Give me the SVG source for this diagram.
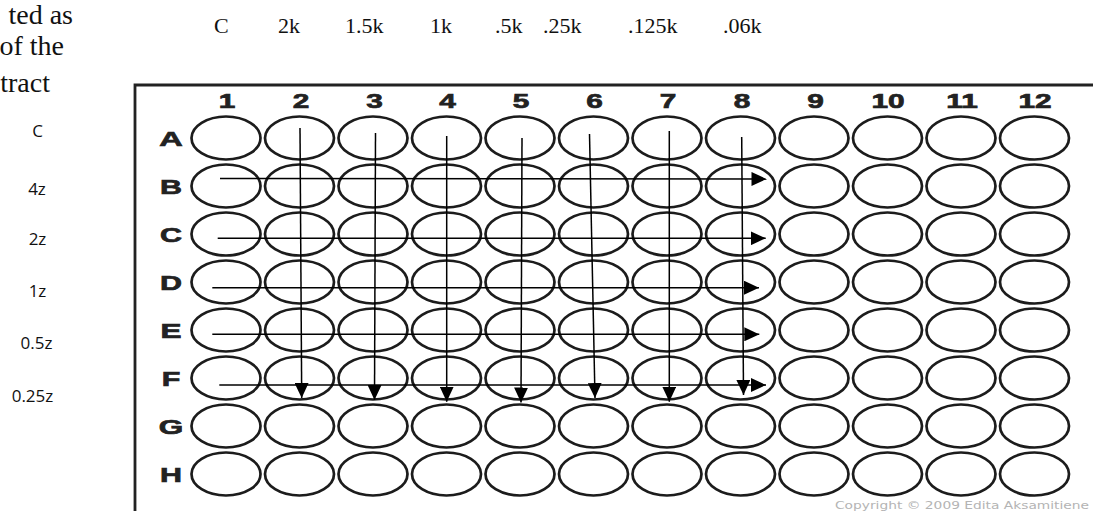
<svg xmlns="http://www.w3.org/2000/svg" width="1093" height="511" viewBox="0 0 1093 511">
<style>
.well{fill:#fff;stroke:#1c1c1c;stroke-width:2.7}
.hdr{font-family:"Liberation Sans",Arial,sans-serif;font-weight:bold;font-size:21px;fill:#222;stroke:#222;stroke-width:0.7;text-anchor:middle}
.top{font-family:"Liberation Serif","Times New Roman",serif;font-size:22px;fill:#111}
.para{font-family:"Liberation Serif","Times New Roman",serif;font-size:28px;fill:#111;text-anchor:end}
.side{font-family:"Open Sans","Liberation Sans",sans-serif;font-size:17px;fill:#111;text-anchor:middle}
.copy{font-family:"DejaVu Sans",Verdana,sans-serif;font-size:11px;fill:#b4b4b4}
.arr{stroke:#000;stroke-width:1.5;fill:none;marker-end:url(#ah)}
</style>
<defs>
<marker id="ah" markerUnits="userSpaceOnUse" markerWidth="15" markerHeight="14" refX="15" refY="7" orient="auto"><path d="M0,0 L15,7 L0,14 Z" fill="#000"/></marker>
</defs>
<rect width="1093" height="511" fill="#fff"/>
<g id="paragraph-text">
<text class="para" x="73" y="24">ted as</text>
<text class="para" x="64" y="55">of the</text>
<text class="para" x="50" y="92">tract</text>
</g>
<g id="top-labels">
<text class="top" x="214" y="33">C</text>
<text class="top" x="278" y="33">2k</text>
<text class="top" x="345" y="33">1.5k</text>
<text class="top" x="430" y="33">1k</text>
<text class="top" x="495" y="33">.5k</text>
<text class="top" x="543" y="33">.25k</text>
<text class="top" x="628" y="33">.125k</text>
<text class="top" x="723" y="33">.06k</text>
</g>
<g id="side-labels">
<text class="side" x="37.5" y="137">C</text>
<text class="side" x="37" y="195">4z</text>
<text class="side" x="37.5" y="245">2z</text>
<text class="side" x="37.5" y="297">1z</text>
<text class="side" x="36.5" y="349">0.5z</text>
<text class="side" x="32.5" y="402">0.25z</text>
</g>
<g id="plate">
<path d="M135,511 V85 H1093" fill="none" stroke="#222" stroke-width="2.8"/>
<g id="col-labels">
<text class="hdr" transform="translate(227,108) scale(1.42,1)">1</text>
<text class="hdr" transform="translate(301,108) scale(1.42,1)">2</text>
<text class="hdr" transform="translate(374.5,108) scale(1.42,1)">3</text>
<text class="hdr" transform="translate(447.5,108) scale(1.42,1)">4</text>
<text class="hdr" transform="translate(521,108) scale(1.42,1)">5</text>
<text class="hdr" transform="translate(594.5,108) scale(1.42,1)">6</text>
<text class="hdr" transform="translate(668,108) scale(1.42,1)">7</text>
<text class="hdr" transform="translate(742,108) scale(1.42,1)">8</text>
<text class="hdr" transform="translate(815.5,108) scale(1.42,1)">9</text>
<text class="hdr" transform="translate(888,108) scale(1.42,1)">10</text>
<text class="hdr" transform="translate(962,108) scale(1.42,1)">11</text>
<text class="hdr" transform="translate(1035,108) scale(1.42,1)">12</text>
</g>
<g id="row-labels">
<text class="hdr" transform="translate(171,145.5) scale(1.55,1)">A</text>
<text class="hdr" transform="translate(171,193.5) scale(1.45,1)">B</text>
<text class="hdr" transform="translate(171,241.5) scale(1.45,1)">C</text>
<text class="hdr" transform="translate(171,289.5) scale(1.45,1)">D</text>
<text class="hdr" transform="translate(171,337.5) scale(1.5,1)">E</text>
<text class="hdr" transform="translate(171,385.5) scale(1.45,1)">F</text>
<text class="hdr" transform="translate(171,433.5) scale(1.5,1)">G</text>
<text class="hdr" transform="translate(171,481.5) scale(1.45,1)">H</text>
</g>
<g id="row-A">
<g id="A1"><ellipse class="well" cx="226" cy="138" rx="34.5" ry="21.5"/></g>
<g id="A2"><ellipse class="well" cx="299.5" cy="138" rx="34.5" ry="21.5"/></g>
<g id="A3"><ellipse class="well" cx="373" cy="138" rx="34.5" ry="21.5"/></g>
<g id="A4"><ellipse class="well" cx="446.5" cy="138" rx="34.5" ry="21.5"/></g>
<g id="A5"><ellipse class="well" cx="520" cy="138" rx="34.5" ry="21.5"/></g>
<g id="A6"><ellipse class="well" cx="593.5" cy="138" rx="34.5" ry="21.5"/></g>
<g id="A7"><ellipse class="well" cx="667" cy="138" rx="34.5" ry="21.5"/></g>
<g id="A8"><ellipse class="well" cx="740.5" cy="138" rx="34.5" ry="21.5"/></g>
<g id="A9"><ellipse class="well" cx="814" cy="138" rx="34.5" ry="21.5"/></g>
<g id="A10"><ellipse class="well" cx="887.5" cy="138" rx="34.5" ry="21.5"/></g>
<g id="A11"><ellipse class="well" cx="961" cy="138" rx="34.5" ry="21.5"/></g>
<g id="A12"><ellipse class="well" cx="1034.5" cy="138" rx="34.5" ry="21.5"/></g>
</g>
<g id="row-B">
<g id="B1"><ellipse class="well" cx="226" cy="186" rx="34.5" ry="21.5"/></g>
<g id="B2"><ellipse class="well" cx="299.5" cy="186" rx="34.5" ry="21.5"/></g>
<g id="B3"><ellipse class="well" cx="373" cy="186" rx="34.5" ry="21.5"/></g>
<g id="B4"><ellipse class="well" cx="446.5" cy="186" rx="34.5" ry="21.5"/></g>
<g id="B5"><ellipse class="well" cx="520" cy="186" rx="34.5" ry="21.5"/></g>
<g id="B6"><ellipse class="well" cx="593.5" cy="186" rx="34.5" ry="21.5"/></g>
<g id="B7"><ellipse class="well" cx="667" cy="186" rx="34.5" ry="21.5"/></g>
<g id="B8"><ellipse class="well" cx="740.5" cy="186" rx="34.5" ry="21.5"/></g>
<g id="B9"><ellipse class="well" cx="814" cy="186" rx="34.5" ry="21.5"/></g>
<g id="B10"><ellipse class="well" cx="887.5" cy="186" rx="34.5" ry="21.5"/></g>
<g id="B11"><ellipse class="well" cx="961" cy="186" rx="34.5" ry="21.5"/></g>
<g id="B12"><ellipse class="well" cx="1034.5" cy="186" rx="34.5" ry="21.5"/></g>
</g>
<g id="row-C">
<g id="C1"><ellipse class="well" cx="226" cy="234" rx="34.5" ry="21.5"/></g>
<g id="C2"><ellipse class="well" cx="299.5" cy="234" rx="34.5" ry="21.5"/></g>
<g id="C3"><ellipse class="well" cx="373" cy="234" rx="34.5" ry="21.5"/></g>
<g id="C4"><ellipse class="well" cx="446.5" cy="234" rx="34.5" ry="21.5"/></g>
<g id="C5"><ellipse class="well" cx="520" cy="234" rx="34.5" ry="21.5"/></g>
<g id="C6"><ellipse class="well" cx="593.5" cy="234" rx="34.5" ry="21.5"/></g>
<g id="C7"><ellipse class="well" cx="667" cy="234" rx="34.5" ry="21.5"/></g>
<g id="C8"><ellipse class="well" cx="740.5" cy="234" rx="34.5" ry="21.5"/></g>
<g id="C9"><ellipse class="well" cx="814" cy="234" rx="34.5" ry="21.5"/></g>
<g id="C10"><ellipse class="well" cx="887.5" cy="234" rx="34.5" ry="21.5"/></g>
<g id="C11"><ellipse class="well" cx="961" cy="234" rx="34.5" ry="21.5"/></g>
<g id="C12"><ellipse class="well" cx="1034.5" cy="234" rx="34.5" ry="21.5"/></g>
</g>
<g id="row-D">
<g id="D1"><ellipse class="well" cx="226" cy="282" rx="34.5" ry="21.5"/></g>
<g id="D2"><ellipse class="well" cx="299.5" cy="282" rx="34.5" ry="21.5"/></g>
<g id="D3"><ellipse class="well" cx="373" cy="282" rx="34.5" ry="21.5"/></g>
<g id="D4"><ellipse class="well" cx="446.5" cy="282" rx="34.5" ry="21.5"/></g>
<g id="D5"><ellipse class="well" cx="520" cy="282" rx="34.5" ry="21.5"/></g>
<g id="D6"><ellipse class="well" cx="593.5" cy="282" rx="34.5" ry="21.5"/></g>
<g id="D7"><ellipse class="well" cx="667" cy="282" rx="34.5" ry="21.5"/></g>
<g id="D8"><ellipse class="well" cx="740.5" cy="282" rx="34.5" ry="21.5"/></g>
<g id="D9"><ellipse class="well" cx="814" cy="282" rx="34.5" ry="21.5"/></g>
<g id="D10"><ellipse class="well" cx="887.5" cy="282" rx="34.5" ry="21.5"/></g>
<g id="D11"><ellipse class="well" cx="961" cy="282" rx="34.5" ry="21.5"/></g>
<g id="D12"><ellipse class="well" cx="1034.5" cy="282" rx="34.5" ry="21.5"/></g>
</g>
<g id="row-E">
<g id="E1"><ellipse class="well" cx="226" cy="330" rx="34.5" ry="21.5"/></g>
<g id="E2"><ellipse class="well" cx="299.5" cy="330" rx="34.5" ry="21.5"/></g>
<g id="E3"><ellipse class="well" cx="373" cy="330" rx="34.5" ry="21.5"/></g>
<g id="E4"><ellipse class="well" cx="446.5" cy="330" rx="34.5" ry="21.5"/></g>
<g id="E5"><ellipse class="well" cx="520" cy="330" rx="34.5" ry="21.5"/></g>
<g id="E6"><ellipse class="well" cx="593.5" cy="330" rx="34.5" ry="21.5"/></g>
<g id="E7"><ellipse class="well" cx="667" cy="330" rx="34.5" ry="21.5"/></g>
<g id="E8"><ellipse class="well" cx="740.5" cy="330" rx="34.5" ry="21.5"/></g>
<g id="E9"><ellipse class="well" cx="814" cy="330" rx="34.5" ry="21.5"/></g>
<g id="E10"><ellipse class="well" cx="887.5" cy="330" rx="34.5" ry="21.5"/></g>
<g id="E11"><ellipse class="well" cx="961" cy="330" rx="34.5" ry="21.5"/></g>
<g id="E12"><ellipse class="well" cx="1034.5" cy="330" rx="34.5" ry="21.5"/></g>
</g>
<g id="row-F">
<g id="F1"><ellipse class="well" cx="226" cy="378" rx="34.5" ry="21.5"/></g>
<g id="F2"><ellipse class="well" cx="299.5" cy="378" rx="34.5" ry="21.5"/></g>
<g id="F3"><ellipse class="well" cx="373" cy="378" rx="34.5" ry="21.5"/></g>
<g id="F4"><ellipse class="well" cx="446.5" cy="378" rx="34.5" ry="21.5"/></g>
<g id="F5"><ellipse class="well" cx="520" cy="378" rx="34.5" ry="21.5"/></g>
<g id="F6"><ellipse class="well" cx="593.5" cy="378" rx="34.5" ry="21.5"/></g>
<g id="F7"><ellipse class="well" cx="667" cy="378" rx="34.5" ry="21.5"/></g>
<g id="F8"><ellipse class="well" cx="740.5" cy="378" rx="34.5" ry="21.5"/></g>
<g id="F9"><ellipse class="well" cx="814" cy="378" rx="34.5" ry="21.5"/></g>
<g id="F10"><ellipse class="well" cx="887.5" cy="378" rx="34.5" ry="21.5"/></g>
<g id="F11"><ellipse class="well" cx="961" cy="378" rx="34.5" ry="21.5"/></g>
<g id="F12"><ellipse class="well" cx="1034.5" cy="378" rx="34.5" ry="21.5"/></g>
</g>
<g id="row-G">
<g id="G1"><ellipse class="well" cx="226" cy="426" rx="34.5" ry="21.5"/></g>
<g id="G2"><ellipse class="well" cx="299.5" cy="426" rx="34.5" ry="21.5"/></g>
<g id="G3"><ellipse class="well" cx="373" cy="426" rx="34.5" ry="21.5"/></g>
<g id="G4"><ellipse class="well" cx="446.5" cy="426" rx="34.5" ry="21.5"/></g>
<g id="G5"><ellipse class="well" cx="520" cy="426" rx="34.5" ry="21.5"/></g>
<g id="G6"><ellipse class="well" cx="593.5" cy="426" rx="34.5" ry="21.5"/></g>
<g id="G7"><ellipse class="well" cx="667" cy="426" rx="34.5" ry="21.5"/></g>
<g id="G8"><ellipse class="well" cx="740.5" cy="426" rx="34.5" ry="21.5"/></g>
<g id="G9"><ellipse class="well" cx="814" cy="426" rx="34.5" ry="21.5"/></g>
<g id="G10"><ellipse class="well" cx="887.5" cy="426" rx="34.5" ry="21.5"/></g>
<g id="G11"><ellipse class="well" cx="961" cy="426" rx="34.5" ry="21.5"/></g>
<g id="G12"><ellipse class="well" cx="1034.5" cy="426" rx="34.5" ry="21.5"/></g>
</g>
<g id="row-H">
<g id="H1"><ellipse class="well" cx="226" cy="474" rx="34.5" ry="21.5"/></g>
<g id="H2"><ellipse class="well" cx="299.5" cy="474" rx="34.5" ry="21.5"/></g>
<g id="H3"><ellipse class="well" cx="373" cy="474" rx="34.5" ry="21.5"/></g>
<g id="H4"><ellipse class="well" cx="446.5" cy="474" rx="34.5" ry="21.5"/></g>
<g id="H5"><ellipse class="well" cx="520" cy="474" rx="34.5" ry="21.5"/></g>
<g id="H6"><ellipse class="well" cx="593.5" cy="474" rx="34.5" ry="21.5"/></g>
<g id="H7"><ellipse class="well" cx="667" cy="474" rx="34.5" ry="21.5"/></g>
<g id="H8"><ellipse class="well" cx="740.5" cy="474" rx="34.5" ry="21.5"/></g>
<g id="H9"><ellipse class="well" cx="814" cy="474" rx="34.5" ry="21.5"/></g>
<g id="H10"><ellipse class="well" cx="887.5" cy="474" rx="34.5" ry="21.5"/></g>
<g id="H11"><ellipse class="well" cx="961" cy="474" rx="34.5" ry="21.5"/></g>
<g id="H12"><ellipse class="well" cx="1034.5" cy="474" rx="34.5" ry="21.5"/></g>
</g>
<text class="copy" x="835" y="509" textLength="254" lengthAdjust="spacingAndGlyphs">Copyright © 2009 Edita Aksamitiene</text>
</g>
<g id="connectors">
<line class="arr" x1="300" y1="128" x2="301.7" y2="398"/>
<line class="arr" x1="375.5" y1="133" x2="374.5" y2="400"/>
<line class="arr" x1="446.7" y1="136" x2="446.7" y2="401.7"/>
<line class="arr" x1="522" y1="138" x2="521" y2="402.5"/>
<line class="arr" x1="589.5" y1="134" x2="595" y2="398"/>
<line class="arr" x1="669.3" y1="131" x2="669.3" y2="401.7"/>
<line class="arr" x1="741.7" y1="137" x2="743.5" y2="395"/>
<line class="arr" x1="220" y1="178.5" x2="766.5" y2="179"/>
<line class="arr" x1="217.7" y1="238.3" x2="765.7" y2="238.3"/>
<line class="arr" x1="212.3" y1="287.7" x2="759" y2="287.7"/>
<line class="arr" x1="212.3" y1="334.3" x2="759.3" y2="334.3"/>
<line class="arr" x1="219.3" y1="385" x2="766" y2="385"/>
</g>
</svg>
